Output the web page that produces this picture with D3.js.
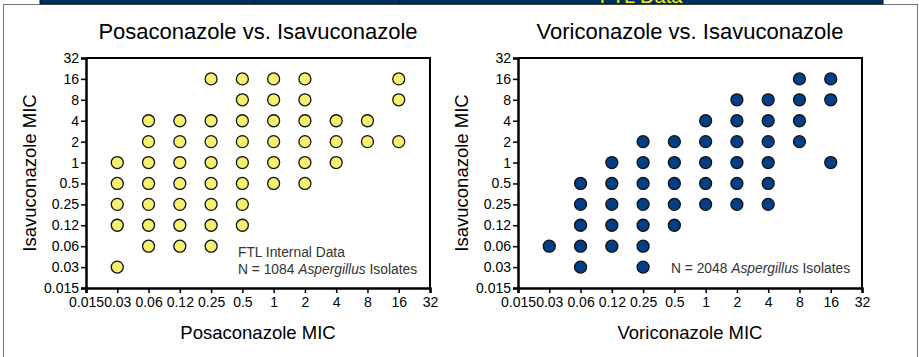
<!DOCTYPE html>
<html lang="en">
	<head>
		<meta charset="UTF-8" />
		<title>Isavuconazole MIC scatter</title>
		<script src="https://d3js.org/d3.v7.min.js"></script>
		<style>
			body {
				margin: 0;
				background: #fff;
			}
			svg text {
				font-family: Arial, 'Liberation Sans', sans-serif;
				fill: #000;
			}
			.tick text {
				font-size: 14px;
			}
			.note {
				font-size: 13.8px;
				fill: #333;
			}
		</style>
	</head>
	<body>
		<svg width="919" height="357"></svg>
		<script>
			// tick labels shared by both axes of both panels
			const micLabels = ['0.015', '0.03', '0.06', '0.12', '0.25', '0.5', '1', '2', '4', '8', '16', '32'];

			// Posaconazole vs Isavuconazole: x column -> isavuconazole MICs seen
			const posaX = ['0.03', '0.06', '0.12', '0.25', '0.5', '1', '2', '4', '8', '16'];
			const posaIsaY = [
				['1', '0.5', '0.25', '0.12', '0.03'],
				['4', '2', '1', '0.5', '0.25', '0.12', '0.06'],
				['4', '2', '1', '0.5', '0.25', '0.12', '0.06'],
				['16', '4', '2', '1', '0.5', '0.25', '0.12', '0.06'],
				['16', '8', '4', '2', '1', '0.5', '0.25', '0.12'],
				['16', '8', '4', '2', '1', '0.5'],
				['16', '8', '4', '2', '1', '0.5'],
				['4', '2', '1'],
				['4', '2'],
				['16', '8', '2']
			];

			// Voriconazole vs Isavuconazole
			const voriX = ['0.03', '0.06', '0.12', '0.25', '0.5', '1', '2', '4', '8', '16'];
			const voriIsaY = [
				['0.06'],
				['0.5', '0.25', '0.12', '0.06', '0.03'],
				['1', '0.5', '0.25', '0.12', '0.06'],
				['2', '1', '0.5', '0.25', '0.12', '0.06', '0.03'],
				['2', '1', '0.5', '0.25', '0.12'],
				['4', '2', '1', '0.5', '0.25'],
				['8', '4', '2', '1', '0.5', '0.25'],
				['8', '4', '2', '1', '0.5', '0.25'],
				['16', '8', '4', '2'],
				['16', '8', '1']
			];

			const svg = d3.select('svg');

			// page chrome: header band and panel border
			svg.append('rect')
				.attr('x', 3.5).attr('y', 4.5)
				.attr('width', 914).attr('height', 360)
				.attr('fill', '#fff').attr('stroke', '#777');

			const band = svg.append('g');
			band.append('clipPath').attr('id', 'bandClip')
				.append('rect').attr('x', 40).attr('y', 0).attr('width', 843).attr('height', 4);
			band.append('rect')
				.attr('x', 40).attr('y', -1).attr('width', 843).attr('height', 5)
				.attr('fill', '#00305f').attr('stroke', '#111');
			band.selectAll('line.sep')
				.data([254, 399])
				.enter()
				.append('line')
				.attr('x1', (d) => d).attr('x2', (d) => d)
				.attr('y1', 0).attr('y2', 4)
				.attr('stroke', '#111');
			band.append('text')
				.attr('x', 641).attr('y', 3)
				.attr('text-anchor', 'middle')
				.attr('clip-path', 'url(#bandClip)')
				.style('font-size', '20px')
				.style('fill', '#f2ee00')
				.text('FTL Data');

			function panel(left, title, xTitle, xs, ysByX, fill, notes) {
				const top = 58, bottom = 288, right = left + 344;

				const x = d3.scalePoint().domain(micLabels).range([left, right]);
				const y = d3.scalePoint().domain(micLabels).range([bottom, top]);

				const g = svg.append('g');

				g.append('text')
					.attr('x', (left + right) / 2).attr('y', 39)
					.attr('text-anchor', 'middle')
					.style('font-size', '22px')
					.text(title);

				// frame (top and right)
				g.append('path')
					.attr('d', `M${left},${top}H${right}V${bottom}`)
					.attr('fill', 'none').attr('stroke', '#000').attr('stroke-width', 2);

				const xAxis = g.append('g')
					.attr('transform', `translate(0,${bottom})`)
					.call(d3.axisBottom(x).tickSizeOuter(0).tickSize(5).tickPadding(4));
				const yAxis = g.append('g')
					.attr('transform', `translate(${left},0)`)
					.call(d3.axisLeft(y).tickSizeOuter(0).tickSize(5).tickPadding(2));
				[xAxis, yAxis].forEach((a) => {
					a.select('.domain').attr('stroke-width', 2.5);
					a.selectAll('.tick line').attr('stroke-width', 1.5);
					a.selectAll('.tick text').style('fill', '#000');
				});

				g.append('text')
					.attr('x', (left + right) / 2).attr('y', 339)
					.attr('text-anchor', 'middle')
					.style('font-size', '18.5px')
					.text(xTitle);

				g.append('text')
					.attr('transform', `translate(${left - 50},${(top + bottom) / 2}) rotate(-90)`)
					.attr('text-anchor', 'middle')
					.style('font-size', '18.5px')
					.text('Isavuconazole MIC');

				const pts = xs.flatMap((xv, i) => ysByX[i].map((yv) => ({ x: xv, y: yv })));
				g.append('g')
					.selectAll('circle')
					.data(pts)
					.enter()
					.append('circle')
					.attr('cx', (d) => x(d.x))
					.attr('cy', (d) => y(d.y))
					.attr('r', 6)
					.attr('fill', fill)
					.attr('stroke', '#111')
					.attr('stroke-width', 1.3);

				notes.forEach((n) => {
					const t = g.append('text')
						.attr('class', 'note')
						.attr('x', left + n.dx)
						.attr('y', n.y);
					n.parts.forEach((p) => {
						t.append('tspan')
							.style('font-style', p.italic ? 'italic' : 'normal')
							.text(p.text);
					});
				});
			}

			panel(86, 'Posaconazole vs. Isavuconazole', 'Posaconazole MIC', posaX, posaIsaY, '#f5f06e', [
				{ dx: 152, y: 257, parts: [{ text: 'FTL Internal Data' }] },
				{ dx: 152, y: 274, parts: [{ text: 'N = 1084 ' }, { text: 'Aspergillus', italic: true }, { text: ' Isolates' }] }
			]);
			panel(518, 'Voriconazole vs. Isavuconazole', 'Voriconazole MIC', voriX, voriIsaY, '#033f86', [
				{ dx: 153, y: 273, parts: [{ text: 'N = 2048 ' }, { text: 'Aspergillus', italic: true }, { text: ' Isolates' }] }
			]);
		</script>
	</body>
</html>
